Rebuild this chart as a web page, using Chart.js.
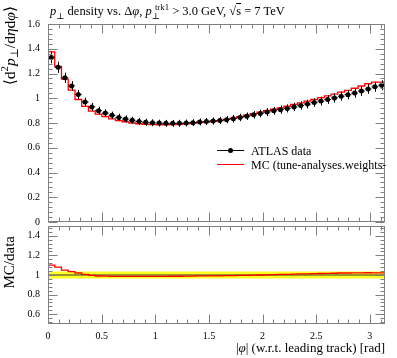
<!DOCTYPE html>
<html>
<head>
<meta charset="utf-8">
<title>pT density vs dphi</title>
<script src="https://cdn.jsdelivr.net/npm/chart.js@4.4.1/dist/chart.umd.min.js"></script>
<style>
  body { margin: 0; background: #fff; }
  #wrap { position: relative; width: 397px; height: 358px; font-family: 'Liberation Serif', 'DejaVu Serif', serif; color: #000; overflow: hidden; }
  canvas { position: absolute; left: 0; }
  #mainChart { top: 0; }
  #ratioChart { top: 224px; }
  .txt { position: absolute; white-space: nowrap; line-height: 1; }
  .vert { writing-mode: vertical-rl; transform: rotate(180deg); }
  sub, sup { font-size: 70%; line-height: 0; }
  .box { position: absolute; }
</style>
</head>
<body>
<div id="wrap">
  <canvas id="mainChart" width="397" height="226"></canvas>
  <canvas id="ratioChart" width="397" height="134"></canvas>

  <div class="txt" style="left:50px;top:5px;font-size:12.5px;">
    <i>p</i><sub>⊥</sub> density vs. Δ<i>φ</i>, <i>p</i><sub>⊥</sub><sup style="margin-left:-5px">trk1</sup> &gt; 3.0 GeV, √<span style="text-decoration:overline">s</span> = 7 TeV
  </div>
  <div class="txt vert" style="left:2px;top:6px;font-size:15.5px;">⟨d<sup>2</sup><i>p</i><sub>⊥</sub>/d<i>η</i>d<i>φ</i>⟩</div>
  <div class="txt vert" style="left:2px;top:236px;font-size:15px;">MC/data</div>
  <div class="txt" style="right:12px;top:341px;font-size:13px;">|<i>φ</i>| (w.r.t. leading track) [rad]</div>

  <!-- legend -->
  <div class="box" style="left:217px;top:150px;width:27px;height:1px;background:#000;"></div>
  <div class="box" style="left:228px;top:148px;width:5px;height:5px;border-radius:50%;background:#000;"></div>
  <div class="txt" style="left:251px;top:145px;font-size:12px;">ATLAS data</div>
  <div class="box" style="left:217px;top:164px;width:27px;height:1px;background:#f00;"></div>
  <div class="txt" style="left:251px;top:159px;font-size:12px;">MC (tune-analyses.weights-</div>
</div>

<script>
const nBins = 50;
const phiMax = Math.PI;

// ATLAS data, one value per bin in |phi|
const dataY = [1.33, 1.25, 1.165, 1.10, 1.03, 0.97, 0.93, 0.90, 0.88, 0.862,
               0.845, 0.832, 0.822, 0.812, 0.806, 0.802, 0.799, 0.797, 0.797, 0.798,
               0.800, 0.803, 0.808, 0.812, 0.816, 0.821, 0.827, 0.835, 0.845, 0.855,
               0.866, 0.877, 0.888, 0.898, 0.908, 0.918, 0.930, 0.942, 0.953, 0.965,
               0.977, 0.990, 1.003, 1.016, 1.029, 1.042, 1.058, 1.075, 1.092, 1.105];
const dataErr = [0.048, 0.045, 0.042, 0.039, 0.037, 0.035, 0.033, 0.032, 0.031, 0.030,
                 0.030, 0.029, 0.029, 0.029, 0.028, 0.028, 0.028, 0.028, 0.028, 0.028,
                 0.028, 0.028, 0.028, 0.029, 0.029, 0.029, 0.029, 0.030, 0.030, 0.030,
                 0.031, 0.031, 0.032, 0.032, 0.033, 0.033, 0.034, 0.034, 0.035, 0.035,
                 0.036, 0.036, 0.037, 0.037, 0.038, 0.038, 0.039, 0.039, 0.040, 0.040];
// MC histogram
const mcY = [1.478, 1.375, 1.258, 1.155, 1.066, 0.990, 0.935, 0.896, 0.871, 0.852,
             0.834, 0.820, 0.810, 0.800, 0.794, 0.790, 0.787, 0.786, 0.786, 0.788,
             0.790, 0.793, 0.799, 0.804, 0.808, 0.814, 0.820, 0.829, 0.840, 0.851,
             0.863, 0.875, 0.888, 0.900, 0.911, 0.923, 0.936, 0.950, 0.963, 0.977,
             0.990, 1.005, 1.019, 1.034, 1.050, 1.063, 1.081, 1.099, 1.117, 1.130];

const yTicksMain = [0, 0.2, 0.4, 0.6, 0.8, 1, 1.2, 1.4, 1.6];
const yTicksRatio = [0.6, 0.8, 1, 1.2, 1.4];
const xTicks = [0, 0.5, 1, 1.5, 2, 2.5, 3];

const binW = phiMax / nBins;
const edges = Array.from({ length: nBins + 1 }, (_, i) => i * binW);
const centers = edges.slice(0, nBins).map(e => e + binW / 2);

// histogram as steps: one point per bin edge, last value repeated to close the last bin
function steps(vals) {
  return edges.map((e, i) => ({ x: e, y: vals[Math.min(i, nBins - 1)] }));
}

const tickFont = { family: "'Liberation Serif', serif", size: 10 };

// frame with inward ticks on all four sides (rivet style)
const frame = {
  id: 'frame',
  afterDraw(chart, args, opts) {
    const { ctx, chartArea: a, scales: { x, y } } = chart;
    const L = Math.round(a.left) + 0.5, R = Math.round(a.right) - 0.5;
    const T = Math.round(a.top) + 0.5, B = Math.round(a.bottom) - 0.5;
    ctx.save();
    ctx.strokeStyle = '#808080';
    ctx.lineWidth = 1;
    ctx.strokeRect(L, T, R - L, B - T);
    ctx.beginPath();
    for (let k = 0; k * 0.1 <= x.max + 1e-9; k++) {
      const px = Math.round(x.getPixelForValue(k * 0.1)) + 0.5;
      const len = k % 5 === 0 ? 9 : 4;
      ctx.moveTo(px, B); ctx.lineTo(px, B - len);
      ctx.moveTo(px, T); ctx.lineTo(px, T + len);
    }
    const step = opts.minor;
    for (let k = Math.ceil(y.min / step - 1e-9); k * step <= y.max + 1e-9; k++) {
      const v = k * step;
      const py = Math.round(y.getPixelForValue(v)) + 0.5;
      const q = v / (step * 5);
      const len = Math.abs(q - Math.round(q)) < 1e-6 ? 9 : 4;
      ctx.moveTo(L, py); ctx.lineTo(L + len, py);
      ctx.moveTo(R, py); ctx.lineTo(R - len, py);
    }
    ctx.stroke();
    ctx.restore();
  }
};

// vertical (stat) and horizontal (bin width) error bars
const errorBars = {
  id: 'errorBars',
  afterDatasetsDraw(chart) {
    const { ctx, scales: { x, y } } = chart;
    chart.data.datasets.forEach(ds => {
      if (!ds.errors) return;
      ctx.save();
      ctx.strokeStyle = '#000';
      ctx.lineWidth = 1;
      ds.data.forEach((p, i) => {
        const px = Math.round(x.getPixelForValue(p.x)) + 0.5;
        const py = y.getPixelForValue(p.y);
        ctx.beginPath();
        ctx.moveTo(px, y.getPixelForValue(p.y - ds.errors[i]));
        ctx.lineTo(px, y.getPixelForValue(p.y + ds.errors[i]));
        ctx.moveTo(x.getPixelForValue(p.x - binW / 2), py);
        ctx.lineTo(x.getPixelForValue(p.x + binW / 2), py);
        ctx.stroke();
      });
      ctx.restore();
    });
  }
};

function yAxis(min, max, ticks) {
  return {
    min: min, max: max,
    grid: { display: false, drawTicks: false },
    border: { display: false },
    // fixed width, and no extra vertical room for the end labels
    afterFit: s => { s.width = 48; s.paddingTop = 0; s.paddingBottom = 0; },
    afterBuildTicks: s => { s.ticks = ticks.map(v => ({ value: v })); },
    ticks: { color: '#000', padding: 8, font: tickFont, callback: v => String(v) }
  };
}

// Main panel
new Chart(document.getElementById('mainChart'), {
  type: 'scatter',
  data: {
    datasets: [
      {
        label: 'MC (tune-analyses.weights-',
        data: steps(mcY),
        showLine: true,
        stepped: 'after',
        borderColor: '#ff0000',
        borderWidth: 1.3,
        pointRadius: 0,
        fill: false,
        order: 2
      },
      {
        label: 'ATLAS data',
        data: centers.map((c, i) => ({ x: c, y: dataY[i] })),
        errors: dataErr,
        pointRadius: 2.5,
        backgroundColor: '#000',
        borderWidth: 0,
        order: 1
      }
    ]
  },
  options: {
    responsive: false,
    animation: false,
    layout: { padding: { top: 24, right: 12, bottom: 1, left: 0 } },
    plugins: { legend: { display: false }, tooltip: { enabled: false }, frame: { minor: 0.04 } },
    scales: {
      x: {
        type: 'linear', min: 0, max: phiMax, display: false,
        ticks: { display: false },
        afterFit: s => { s.height = 0; s.paddingLeft = 0; s.paddingRight = 0; }
      },
      y: yAxis(0, 1.6, yTicksMain)
    }
  },
  plugins: [frame, errorBars]
});

// Ratio panel
const ratioY = mcY.map((v, i) => v / dataY[i]);
const relErr = dataErr.map((e, i) => e / dataY[i]);

new Chart(document.getElementById('ratioChart'), {
  type: 'scatter',
  data: {
    datasets: [
      { data: steps(relErr.map(r => 1 + r)), showLine: true, stepped: 'after', borderWidth: 0, pointRadius: 0, fill: false, order: 4 },
      { data: steps(relErr.map(r => 1 - r)), showLine: true, stepped: 'after', borderWidth: 0, pointRadius: 0, fill: '-1', backgroundColor: '#ffff22', order: 3 },
      { data: [{ x: 0, y: 1 }, { x: phiMax, y: 1 }], showLine: true, borderColor: '#333', borderWidth: 1, pointRadius: 0, order: 2 },
      { data: steps(ratioY), showLine: true, stepped: 'after', borderColor: '#ff0000', borderWidth: 1.3, pointRadius: 0, order: 1 }
    ]
  },
  options: {
    responsive: false,
    animation: false,
    layout: { padding: { top: 2, right: 12, bottom: 0, left: 0 } },
    plugins: { legend: { display: false }, tooltip: { enabled: false }, frame: { minor: 0.04 } },
    scales: {
      x: {
        type: 'linear', min: 0, max: phiMax,
        grid: { display: false, drawTicks: false },
        border: { display: false },
        afterFit: s => { s.height = 34; s.paddingLeft = 0; s.paddingRight = 0; },
        afterBuildTicks: s => { s.ticks = xTicks.map(v => ({ value: v })); },
        ticks: { color: '#000', padding: 6, maxRotation: 0, autoSkip: false, font: tickFont, callback: v => String(v) }
      },
      y: yAxis(0.5, 1.5, yTicksRatio)
    }
  },
  plugins: [frame]
});
</script>
</body>
</html>
